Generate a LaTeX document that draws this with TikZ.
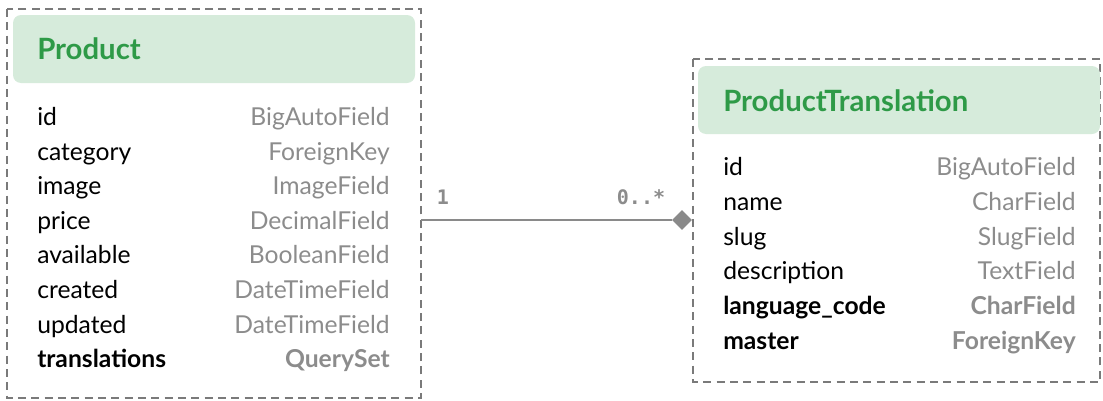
\documentclass[tikz,border=0pt]{standalone}
\usepackage{fontspec}
\setmainfont{Lato}
\setmonofont{DejaVu Sans Mono}
\usetikzlibrary{shapes.geometric}
\definecolor{hdrfill}{HTML}{D6EBDB}
\definecolor{hdrtext}{HTML}{2E9A47}
\definecolor{typegray}{HTML}{8C8C8C}
\definecolor{bordergray}{HTML}{7A7A7A}
\definecolor{linegray}{HTML}{8A8A8A}
\begin{document}
\begin{tikzpicture}[x=0.75pt,y=-0.75pt,
  frame/.style={draw=bordergray,line width=1pt,dash pattern=on 6pt off 4pt},
  header/.style={fill=hdrfill,rounded corners=6pt,draw=none},
  title/.style={anchor=west,text=hdrtext,font=\fontsize{22}{26}\selectfont\bfseries,inner sep=0pt},
  fname/.style={anchor=base west,font=\fontsize{18.5}{22}\selectfont,inner sep=0pt},
  fnameb/.style={fname,font=\fontsize{18.5}{22}\selectfont\bfseries},
  ftype/.style={anchor=base east,text=typegray,font=\fontsize{18.5}{22}\selectfont,inner sep=0pt},
  ftypeb/.style={ftype,font=\fontsize{18.5}{22}\selectfont\bfseries},
  mult/.style={text=typegray,font=\ttfamily\bfseries\fontsize{15}{18}\selectfont,inner sep=0pt},
  conn/.style={draw=linegray,line width=1pt}]
\useasboundingbox (0,0) rectangle (1103,400);
% Product
\draw[frame] (7,9) rectangle (421,398);
\coordinate (prodE) at (421,220);
\fill[header] (13,15) rectangle (415,83);
\node[title] (prodt) at (37,49) {Product};
\foreach \n/\t/\y [count=\i] in {id/BigAutoField/125,category/ForeignKey/160,image/ImageField/194,price/DecimalField/229,available/BooleanField/263,created/DateTimeField/298,updated/DateTimeField/333}{
  \node[fname] (pn\i) at (37,\y) {\n};
  \node[ftype] (pt\i) at (390,\y) {\t};
}
\node[fnameb] (pn8) at (37,367) {translations};
\node[ftypeb] (pt8) at (390,367) {QuerySet};
% ProductTranslation
\draw[frame] (693,59) rectangle (1100,382);
\fill[header] (698,66) rectangle (1100,134);
\node[title] (trt) at (723,101) {ProductTranslation};
\foreach \n/\t/\y [count=\i] in {id/BigAutoField/175,name/CharField/210,slug/SlugField/245,description/TextField/279}{
  \node[fname] (tn\i) at (723,\y) {\n};
  \node[ftype] (tt\i) at (1076,\y) {\t};
}
\node[fnameb] (tn5) at (723,314) {language\_code};
\node[ftypeb] (tt5) at (1076,314) {CharField};
\node[fnameb] (tn6) at (723,349) {master};
\node[ftypeb] (tt6) at (1076,349) {ForeignKey};
% connector
\node[diamond,fill=linegray,inner sep=0pt,minimum width=15pt,minimum height=15pt] (dia) at (682,220) {};
\draw[conn] (prodE) -- (dia.west);
\node[mult,anchor=center] (m1) at (443,197) {1};
\node[mult,anchor=center] (m2) at (641,197) {0..*};
\end{tikzpicture}
\end{document}
